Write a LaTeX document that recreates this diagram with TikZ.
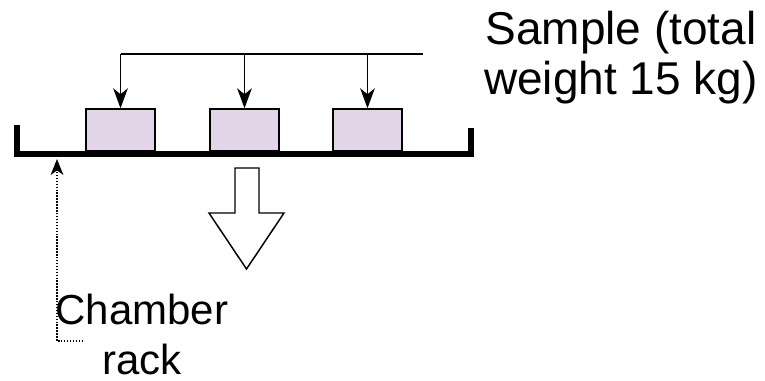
\documentclass[tikz,border=0pt]{standalone}
\usepackage{fontspec}
\setmainfont{Liberation Sans}
\usetikzlibrary{arrows.meta}
\definecolor{samplefill}{HTML}{E1D5E7}
\begin{document}
\begin{tikzpicture}[x=0.75pt,y=-0.75pt,
  rackline/.style={line width=4.5pt,line join=miter,line cap=butt},
  samplebox/.style={draw,line width=1.1pt,fill=samplefill,minimum width=51.75pt,minimum height=31.5pt,inner sep=0pt},
  arr/.style={line width=1.1pt,-{Stealth[length=15pt,width=11pt,inset=4.5pt]}},
  feed/.style={line width=1.1pt},
  dotarr/.style={line width=0.8pt,dash pattern=on 1.1pt off 1.1pt,-{Stealth[length=12pt,width=9.5pt,inset=3.5pt]}},
  bigarrow/.style={draw,line width=1.1pt,fill=white,line join=miter},
  lbl/.style={inner sep=0pt,align=center}]
\useasboundingbox (0,0) rectangle (765,380);
% rack
\draw[rackline] (17,125) -- (17,154) -- (471,154) -- (471,128);
% samples
\node[samplebox] (s1) at (120.5,130) {};
\node[samplebox] (s2) at (244.5,130) {};
\node[samplebox] (s3) at (367.5,130) {};
% feed line
\coordinate (t1) at (120.5,54);
\coordinate (t2) at (244.5,54);
\coordinate (t3) at (367.5,54);
\coordinate (tend) at (423,54);
\draw[feed] (t1) -- (tend);
\draw[arr] (t1) -- (s1.north);
\draw[arr] (t2) -- (s2.north);
\draw[arr] (t3) -- (s3.north);
% big arrow
\draw[bigarrow] (235,168) -- (259,168) -- (259,213) -- (284,213) -- (246.5,269) -- (209,213) -- (235,213) -- cycle;
% labels (base anchor = baseline of the last line)
\node[lbl,anchor=base,font=\fontsize{34.5}{37.5}\selectfont] (sample) at (621,94) {Sample (total\\weight 15 kg)};
\node[lbl,anchor=base,font=\fontsize{31.5}{37.5}\selectfont] (chamber) at (142,374) {Chamber\\rack};
% dotted pointer
\coordinate (d0) at (83,341);
\coordinate (d1) at (57,341);
\coordinate (d2) at (57,159);
\draw[dotarr] (d0) -- (d1) -- (d2);
\end{tikzpicture}
\end{document}
